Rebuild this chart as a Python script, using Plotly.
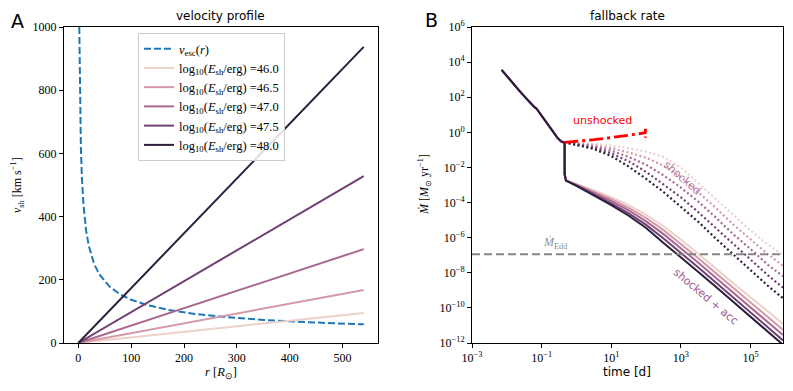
import numpy as np
import plotly.graph_objects as go

# ---------------- data: left panel ----------------
energies = ["46.0", "46.5", "47.0", "47.5", "48.0"]
colors = ["#edd1cb", "#d499a7", "#aa678f", "#6e4071", "#2d1e3e"]
r_line = [0, 540]
v_end = [95, 168, 297, 528, 937]

r_esc = [1.88, 2.5, 3.5, 5, 7, 10, 15, 20, 30, 40, 60, 80, 100, 130, 170, 220, 280, 350, 430, 540]
v_esc = [1000, 867, 733, 613, 518, 434, 354, 307, 250, 217, 177, 153, 137, 120, 105, 92, 82, 73, 66, 59]

# ---------------- data: right panel (log10 values) ----------------
early_logt = [-2.15, -2.0, -1.85, -1.65, -1.45, -1.3, -1.2, -1.15, -1.1, -0.95, -0.8, -0.65, -0.55, -0.45, -0.35, -0.34, -0.34, -0.30]
early_logM = [3.56, 3.2, 2.85, 2.39, 1.95, 1.62, 1.42, 1.36, 1.22, 0.85, 0.45, 0.02, -0.3, -0.5, -0.57, -0.6, -2.4, -2.75]

post_logt = [-0.30, 0.0, 0.5, 1.0, 1.5, 2.0, 2.5, 3.0, 3.5, 4.0, 4.5, 5.0, 5.5, 5.93]
acc_logM = {
    "46.0": [-2.75, -2.95, -3.3, -3.7, -4.15, -4.7, -5.35, -6.1, -6.9, -7.75, -8.6, -9.4, -10.2, -10.9],
    "46.5": [-2.75, -2.97, -3.37, -3.8, -4.3, -4.88, -5.57, -6.35, -7.17, -8.02, -8.87, -9.7, -10.52, -11.25],
    "47.0": [-2.75, -3.0, -3.45, -3.92, -4.45, -5.07, -5.8, -6.6, -7.43, -8.28, -9.13, -9.97, -10.8, -11.55],
    "47.5": [-2.75, -3.03, -3.53, -4.05, -4.62, -5.27, -6.05, -6.85, -7.7, -8.55, -9.4, -10.25, -11.1, -11.85],
    "48.0": [-2.75, -3.05, -3.6, -4.15, -4.75, -5.45, -6.3, -7.1, -7.95, -8.8, -9.65, -10.5, -11.35, -12.1],
}

shock_logt = [-0.35, 0.0, 0.5, 1.0, 1.5, 2.0, 2.5, 3.0, 3.5, 4.0, 4.5, 5.0, 5.5, 5.93]
shock_logM = {
    "46.0": [-0.57, -0.6, -0.65, -0.75, -0.9, -1.1, -1.4, -2.0, -2.9, -3.8, -4.75, -5.6, -6.4, -7.0],
    "46.5": [-0.57, -0.63, -0.73, -0.9, -1.15, -1.45, -1.9, -2.55, -3.4, -4.3, -5.25, -6.1, -6.95, -7.6],
    "47.0": [-0.57, -0.66, -0.8, -1.05, -1.4, -1.85, -2.45, -3.15, -3.95, -4.85, -5.8, -6.65, -7.55, -8.2],
    "47.5": [-0.57, -0.69, -0.88, -1.2, -1.65, -2.25, -2.95, -3.7, -4.55, -5.45, -6.35, -7.25, -8.15, -8.85],
    "48.0": [-0.57, -0.72, -0.95, -1.35, -1.95, -2.65, -3.4, -4.25, -5.1, -6.05, -6.95, -7.85, -8.75, -9.45],
}

unshock_logt = [-0.35, 0.0, 0.5, 1.0, 1.5, 1.8, 1.97, 1.98, 1.98]
unshock_logM = [-0.57, -0.52, -0.42, -0.3, -0.17, -0.08, -0.03, 0.2, -0.31]

Mdot_edd = 1.15e-7
t_range_log = [-3, 5.93]

left_xticks = [0, 100, 200, 300, 400, 500]
left_yticks = [0, 200, 400, 600, 800, 1000]
right_xtick_exp = [-3, -1, 1, 3, 5]
right_ytick_exp = [-12, -10, -8, -6, -4, -2, 0, 2, 4, 6]


def pow10(a):
    return (10.0 ** np.asarray(a, dtype=float)).tolist()


def sup(e):
    return "10<sup>" + (str(e).replace("-", "\u2212")) + "</sup>"


SERIF = "Liberation Serif"
SANS = "DejaVu Sans"

fig = go.Figure()

# ---- left panel ----
fig.add_trace(go.Scatter(
    x=r_esc, y=v_esc, mode="lines", xaxis="x", yaxis="y",
    line=dict(color="#1f77b4", width=2, dash="7px,3px"),
    name="<i>v</i><sub>esc</sub>(<i>r</i>)"))
for e, c, v in zip(energies, colors, v_end):
    fig.add_trace(go.Scatter(
        x=r_line, y=[0, v], mode="lines", xaxis="x", yaxis="y", line=dict(color=c, width=2),
        name="log<sub>10</sub>(<i>E</i><sub>sh</sub>/erg) =" + e))

# ---- right panel ----
for e, c in zip(energies, colors):
    fig.add_trace(go.Scatter(
        x=pow10(shock_logt), y=pow10(shock_logM[e]), mode="lines", xaxis="x2", yaxis="y2",
        line=dict(color=c, width=2.2, dash="2px,2.5px"), showlegend=False))
for e, c in zip(energies, colors):
    fig.add_trace(go.Scatter(
        x=pow10(early_logt + post_logt), y=pow10(early_logM + acc_logM[e]), mode="lines",
        xaxis="x2", yaxis="y2", line=dict(color=c, width=2), showlegend=False))
fig.add_trace(go.Scatter(
    x=pow10(unshock_logt), y=pow10(unshock_logM), mode="lines", xaxis="x2", yaxis="y2",
    line=dict(color="#ff0000", width=2.8, dash="14px,4px,3px,4px"), showlegend=False))
fig.add_trace(go.Scatter(
    x=pow10(t_range_log), y=[Mdot_edd, Mdot_edd], mode="lines", xaxis="x2", yaxis="y2",
    line=dict(color="rgba(128,128,128,0.95)", width=2, dash="8px,4px"), showlegend=False))

axis_common = dict(showgrid=False, zeroline=False, showline=True, linecolor="black", linewidth=1,
                   mirror=True, ticks="outside", ticklen=4, tickcolor="black",
                   tickfont=dict(family=SERIF, size=12, color="black"))

# screen plot area (page has 8px body margin): x 64..783, y 27..343
L_DOM = [0, (378 - 64) / 719.0]
R_DOM = [(472 - 64) / 719.0, 1]

fig.update_layout(
    xaxis=dict(domain=L_DOM, range=[-27, 567], tickvals=left_xticks, anchor="y", **axis_common),
    yaxis=dict(domain=[0, 1], range=[0, 1000], tickvals=left_yticks, anchor="x", **axis_common),
    xaxis2=dict(domain=R_DOM, type="log", range=t_range_log, anchor="y2",
                tickvals=[10.0 ** k for k in right_xtick_exp],
                ticktext=[sup(k) for k in right_xtick_exp], **axis_common),
    yaxis2=dict(domain=[0, 1], type="log", range=[-12, 6], anchor="x2",
                tickvals=[10.0 ** k for k in right_ytick_exp],
                ticktext=[sup(k) for k in right_ytick_exp], **axis_common),
)


def px(x):
    return (x - 64) / 719.0


def py(y):
    return (343 - y) / 316.0


def add(text, x, y, size, family=SANS, color="black", angle=0):
    fig.add_annotation(text=text, x=px(x), y=py(y), xref="paper", yref="paper",
                       showarrow=False, xanchor="center", yanchor="middle",
                       font=dict(family=family, size=size, color=color), textangle=angle)


add("A", 17, 21, 19)
add("B", 431, 20, 19)
add("velocity profile", 220, 16, 12)
add("fallback rate", 627, 16, 12)
add("<i>r</i> [<i>R</i><sub>⊙</sub>]", 221, 373, 12.5, family=SERIF)
add("time [d]", 627, 372, 12)
add("<i>v</i><sub>sh</sub> [km s<sup>−1</sup>]", 17, 185, 12, family=SERIF, angle=-90)
add("<i>M\u0307</i> [<i>M</i><sub>⊙</sub> yr<sup>−1</sup>]", 424, 185, 12, family=SERIF, angle=-90)

# annotations inside right panel, in data coords
fig.add_annotation(text="unshocked", x=0.74, y=0.68, xref="x2", yref="y2", showarrow=False,
                   font=dict(family=SANS, size=11, color="#ff0000"))
fig.add_annotation(text="shocked", x=3.03, y=-2.56, xref="x2", yref="y2", showarrow=False,
                   textangle=41, font=dict(family=SANS, size=11, color="#b47a9e"))
fig.add_annotation(text="shocked + acc", x=3.71, y=-9.33, xref="x2", yref="y2", showarrow=False,
                   textangle=40, font=dict(family=SANS, size=11, color="#a0588f"))
fig.add_annotation(text="<i>M\u0307</i><sub>Edd</sub>", x=-0.61, y=-6.3, xref="x2", yref="y2",
                   showarrow=False, font=dict(family=SERIF, size=12, color="#909090"))

# figure div sits at (8,8) in the page because of the default body margin
fig.update_layout(
    width=785, height=375,
    margin=dict(l=56, r=10, t=19, b=40, autoexpand=False),
    paper_bgcolor="white", plot_bgcolor="white",
    showlegend=True,
    legend=dict(x=px(138), y=py(33), xanchor="left", yanchor="top",
                bgcolor="rgba(255,255,255,0.85)", bordercolor="#cccccc", borderwidth=1,
                font=dict(family=SERIF, size=12.5, color="black"),
                tracegroupgap=0, itemwidth=30),
)

fig.write_html("out.html")
